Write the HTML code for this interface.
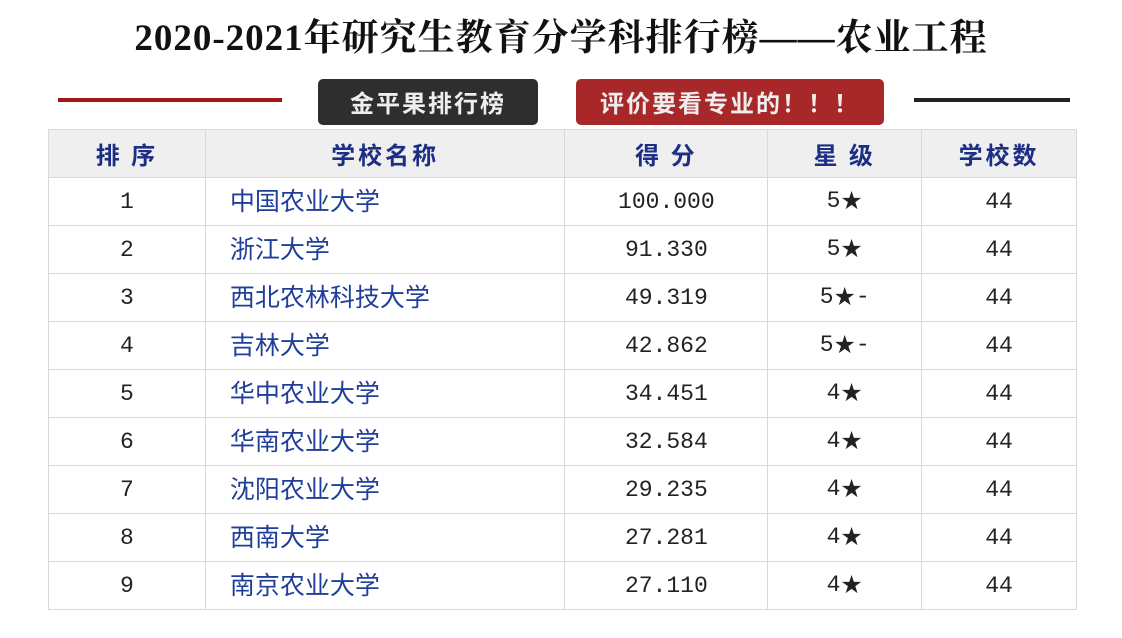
<!DOCTYPE html>
<html><head><meta charset="utf-8"><style>
body{margin:0;width:1122px;height:638px;background:#fff;position:relative;overflow:hidden;font-family:"Liberation Serif","Noto Serif CJK SC",serif}
.title{position:absolute;top:17px;left:0;width:1122px;text-align:center;font-size:37px;line-height:44px;font-weight:bold;color:#111;letter-spacing:1px}
.ln{position:absolute;height:4px}
.btn{position:absolute;top:79px;height:46px;border-radius:5px;color:#eee;font-family:"Noto Sans CJK SC",sans-serif;font-weight:bold;font-size:24px;line-height:46px;text-align:center;letter-spacing:2px}
table{position:absolute;left:48px;top:129px;border-collapse:collapse;width:1029px}
td{border:1px solid #d8d8d8;height:47px;padding:0;text-align:center;font-size:23px;line-height:26px;color:#222;font-family:"Liberation Mono",monospace;vertical-align:middle}
tr.h td{background:#efefef;color:#1d2f85;font-weight:bold;font-family:"Noto Sans CJK SC",sans-serif;font-size:24px;letter-spacing:3px}
td.n{text-align:left;padding-left:24px;padding-bottom:4px;height:43px;color:#1f3f9a;font-family:"Noto Sans CJK SC",sans-serif;font-size:25px;line-height:28px}
td span{display:inline-block;vertical-align:middle}
.s{font-family:"DejaVu Sans",sans-serif;font-size:25px}
</style></head><body>
<div class="title">2020-2021年研究生教育分学科排行榜——农业工程</div>
<div class="ln" style="left:58px;top:98px;width:224px;background:#a0181a"></div>
<div class="ln" style="left:914px;top:98px;width:156px;background:#222"></div>
<div class="btn" style="left:318px;width:220px;background:#2e2e2e">金平果排行榜</div>
<div class="btn" style="left:576px;width:308px;background:#a8282a">评价要看专业的！！！</div>
<table>
<colgroup><col style="width:157px"><col style="width:360px"><col style="width:203px"><col style="width:154px"><col style="width:155px"></colgroup>
<tr class="h"><td>排 序</td><td>学校名称</td><td>得 分</td><td>星 级</td><td>学校数</td></tr>
<tr><td>1</td><td class="n">中国农业大学</td><td>100.000</td><td>5<span class="s">★</span></td><td>44</td></tr>
<tr><td>2</td><td class="n">浙江大学</td><td>91.330</td><td>5<span class="s">★</span></td><td>44</td></tr>
<tr><td>3</td><td class="n">西北农林科技大学</td><td>49.319</td><td>5<span class="s">★</span>-</td><td>44</td></tr>
<tr><td>4</td><td class="n">吉林大学</td><td>42.862</td><td>5<span class="s">★</span>-</td><td>44</td></tr>
<tr><td>5</td><td class="n">华中农业大学</td><td>34.451</td><td>4<span class="s">★</span></td><td>44</td></tr>
<tr><td>6</td><td class="n">华南农业大学</td><td>32.584</td><td>4<span class="s">★</span></td><td>44</td></tr>
<tr><td>7</td><td class="n">沈阳农业大学</td><td>29.235</td><td>4<span class="s">★</span></td><td>44</td></tr>
<tr><td>8</td><td class="n">西南大学</td><td>27.281</td><td>4<span class="s">★</span></td><td>44</td></tr>
<tr><td>9</td><td class="n">南京农业大学</td><td>27.110</td><td>4<span class="s">★</span></td><td>44</td></tr>
</table>
</body></html>
